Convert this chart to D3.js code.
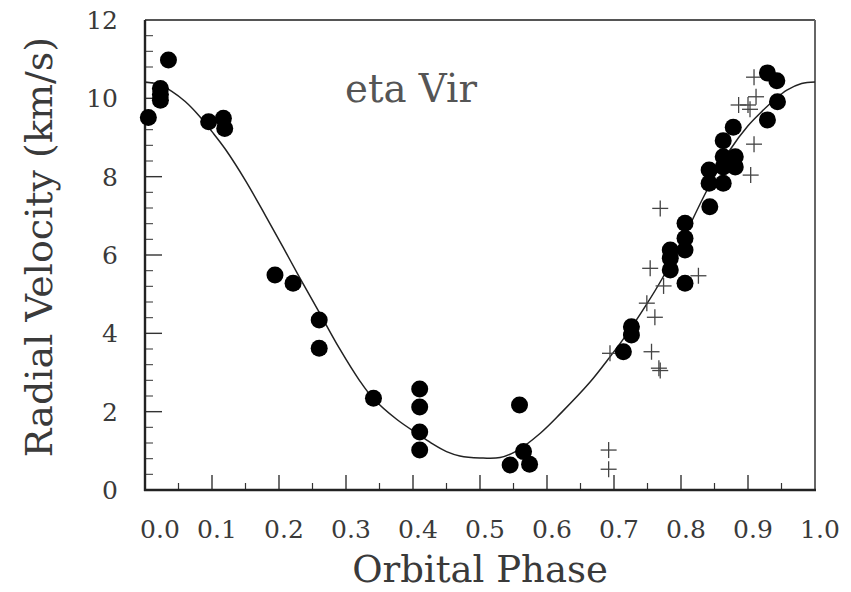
<!DOCTYPE html>
<html>
<head>
<meta charset="utf-8">
<script src="https://cdn.jsdelivr.net/npm/d3@7"></script>
<style>
  html, body { margin: 0; padding: 0; background: #fff; }
  svg { display: block; }
  text { font-family: "DejaVu Serif", "Liberation Serif", serif; }
</style>
</head>
<body>
<svg id="chart" width="851" height="592"></svg>
<script>
// ---- data ----
const dotPhase = [0.005, 0.023, 0.023, 0.023, 0.035, 0.095, 0.117, 0.119,
  0.194, 0.221, 0.260, 0.260, 0.341, 0.410, 0.410, 0.410, 0.410,
  0.545, 0.559, 0.565, 0.574,
  0.714, 0.726, 0.726, 0.784, 0.784, 0.784, 0.806, 0.806, 0.806, 0.806,
  0.842, 0.842, 0.843, 0.863, 0.863, 0.863, 0.863, 0.881, 0.881,
  0.878, 0.929, 0.943, 0.944, 0.929];
const dotVel = [9.51, 10.25, 10.1, 9.95, 10.98, 9.40, 9.49, 9.23,
  5.49, 5.28, 4.34, 3.62, 2.34, 2.58, 2.12, 1.48, 1.02,
  0.64, 2.17, 0.98, 0.66,
  3.53, 4.17, 3.96, 6.13, 5.92, 5.62, 6.81, 6.43, 6.13, 5.28,
  8.17, 7.83, 7.23, 7.83, 8.51, 8.25, 8.92, 8.51, 8.25,
  9.26, 10.65, 10.45, 9.91, 9.45];

const crossPhase = [0.692, 0.692, 0.694, 0.749, 0.754, 0.756, 0.761, 0.767, 0.769,
  0.769, 0.774, 0.826, 0.886, 0.900, 0.903, 0.904, 0.909, 0.909, 0.912];
const crossVel = [1.02, 0.53, 3.49, 4.77, 5.66, 3.53, 4.41, 3.11, 3.05,
  7.19, 5.21, 5.47, 9.83, 9.83, 9.72, 8.04, 10.54, 8.83, 10.04];

const curvePhase = [0.00, 0.02, 0.04, 0.06, 0.08, 0.10, 0.12, 0.15, 0.18, 0.206,
  0.23, 0.258, 0.29, 0.32, 0.34, 0.376, 0.41, 0.43, 0.45, 0.47, 0.50, 0.53,
  0.555, 0.59, 0.62, 0.664, 0.694, 0.72, 0.749, 0.772, 0.80, 0.839, 0.873,
  0.90, 0.918, 0.94, 0.958, 0.98, 1.00];
const curveVel = [10.42, 10.36, 10.18, 9.92, 9.57, 9.15, 8.70, 7.90, 7.00, 6.20,
  5.45, 4.60, 3.62, 2.80, 2.35, 1.80, 1.40, 1.17, 0.98, 0.87, 0.82, 0.83,
  1.00, 1.45, 1.95, 2.75, 3.40, 4.00, 4.75, 5.40, 6.30, 7.66, 8.68,
  9.30, 9.62, 9.97, 10.21, 10.38, 10.42];

const xTickValues = [0.0, 0.1, 0.2, 0.3, 0.4, 0.5, 0.6, 0.7, 0.8, 0.9, 1.0];
const xTickLabels = ["0.0", "0.1", "0.2", "0.3", "0.4", "0.5", "0.6", "0.7", "0.8", "0.9", "1.0"];
const yTickValues = [0, 2, 4, 6, 8, 10, 12];
const yTickLabels = ["0", "2", "4", "6", "8", "10", "12"];

const title = "eta Vir";
const xTitle = "Orbital Phase";
const yTitle = "Radial Velocity (km/s)";

// ---- layout ----
const svg = d3.select("#chart");
const x = d3.scaleLinear().domain([0, 1]).range([145, 815]);
const y = d3.scaleLinear().domain([0, 12]).range([490, 20]);

// minor ticks
const xMinor = d3.range(0, 1.0001, 0.05).filter(v => Math.abs(v * 10 - Math.round(v * 10)) > 1e-6);
const yMinor = d3.range(0, 12.0001, 0.4).filter(v => Math.abs(v / 2 - Math.round(v / 2)) > 1e-6);

const xAxis = d3.axisBottom(x).tickValues(xTickValues).tickSize(0).tickFormat("");
const gx = svg.append("g").attr("transform", "translate(0,490)").call(xAxis);
gx.select(".domain").remove();

// major/minor tick marks drawn inward
svg.append("g").selectAll("line").data(xTickValues.slice(1, -1)).join("line")
  .attr("x1", d => x(d)).attr("x2", d => x(d)).attr("y1", 490).attr("y2", 475)
  .attr("stroke", "#333").attr("stroke-width", 1.4);
svg.append("g").selectAll("line").data(xMinor).join("line")
  .attr("x1", d => x(d)).attr("x2", d => x(d)).attr("y1", 490).attr("y2", 483)
  .attr("stroke", "#333").attr("stroke-width", 1.2);
svg.append("g").selectAll("line").data(yTickValues.slice(1, -1)).join("line")
  .attr("x1", 145).attr("x2", 162).attr("y1", d => y(d)).attr("y2", d => y(d))
  .attr("stroke", "#333").attr("stroke-width", 1.4);
svg.append("g").selectAll("line").data(yMinor).join("line")
  .attr("x1", 145).attr("x2", 153).attr("y1", d => y(d)).attr("y2", d => y(d))
  .attr("stroke", "#444").attr("stroke-width", 1.1);

// tick labels
svg.append("g").selectAll("text").data(xTickValues).join("text")
  .attr("x", (d, i) => x(d) + (i === 0 ? 15 : 5))
  .attr("y", 538)
  .attr("text-anchor", "middle")
  .attr("font-size", 25)
  .attr("fill", "#3a3a3a")
  .text((d, i) => xTickLabels[i]);
svg.append("g").selectAll("text").data(yTickValues).join("text")
  .attr("x", 118)
  .attr("y", d => y(d) + 9)
  .attr("text-anchor", "end")
  .attr("font-size", 25)
  .attr("fill", "#3a3a3a")
  .text((d, i) => yTickLabels[i]);

// frame
svg.append("line").attr("x1", 145).attr("x2", 815).attr("y1", 20).attr("y2", 20)
  .attr("stroke", "#555").attr("stroke-width", 1.8);
svg.append("line").attr("x1", 815).attr("x2", 815).attr("y1", 20).attr("y2", 490)
  .attr("stroke", "#666").attr("stroke-width", 2);
svg.append("line").attr("x1", 145).attr("x2", 145).attr("y1", 20).attr("y2", 491)
  .attr("stroke", "#222").attr("stroke-width", 2.4);
svg.append("line").attr("x1", 144).attr("x2", 816).attr("y1", 490).attr("y2", 490)
  .attr("stroke", "#222").attr("stroke-width", 2.4);

// fit curve
const line = d3.line().x(d => x(d[0])).y(d => y(d[1])).curve(d3.curveCatmullRom.alpha(0.5));
svg.append("path")
  .datum(curvePhase.map((p, i) => [p, curveVel[i]]))
  .attr("d", line)
  .attr("fill", "none")
  .attr("stroke", "#222")
  .attr("stroke-width", 1.5);

// crosses
const cr = 8;
const gc = svg.append("g");
crossPhase.forEach((p, i) => {
  const cx = x(p), cy = y(crossVel[i]);
  gc.append("line").attr("x1", cx - cr).attr("x2", cx + cr).attr("y1", cy).attr("y2", cy)
    .attr("stroke", "#444").attr("stroke-width", 1.3);
  gc.append("line").attr("x1", cx).attr("x2", cx).attr("y1", cy - cr).attr("y2", cy + cr)
    .attr("stroke", "#444").attr("stroke-width", 1.3);
});

// filled dots
svg.append("g").selectAll("circle").data(dotPhase).join("circle")
  .attr("cx", d => x(d))
  .attr("cy", (d, i) => y(dotVel[i]))
  .attr("r", 8.5)
  .attr("fill", "#000");

// texts
svg.append("text").attr("x", 345).attr("y", 102)
  .attr("font-size", 40).attr("fill", "#555")
  .attr("textLength", 132).attr("lengthAdjust", "spacingAndGlyphs")
  .text(title);
svg.append("text").attr("x", 480).attr("y", 582)
  .attr("text-anchor", "middle").attr("font-size", 37).attr("fill", "#3a3a3a")
  .text(xTitle);
svg.append("text")
  .attr("transform", "translate(52,247) rotate(-90)")
  .attr("text-anchor", "middle").attr("font-size", 38).attr("fill", "#3a3a3a")
  .text(yTitle);
</script>
</body>
</html>
